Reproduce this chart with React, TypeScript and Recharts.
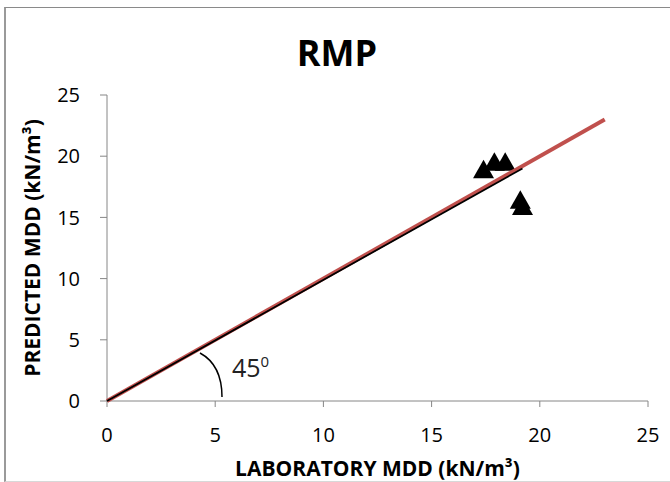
import React from "react";
import {
  ScatterChart,
  Scatter,
  XAxis,
  YAxis,
  ReferenceDot,
  Label,
} from "recharts";

// laboratory vs predicted maximum dry density, kN/m³
const labMdd = [17.4, 17.9, 18.4, 19.1, 19.2];
const predictedMdd = [18.9, 19.5, 19.5, 16.4, 15.9];

// 1:1 reference line
const equalityX = [0, 23];
const equalityY = [0, 23];

// fitted trend through the samples
const trendX = [0, 19.2];
const trendY = [0, 19.0];

const axisTicks = [0, 5, 10, 15, 20, 25];

const FONT = "'Open Sans', 'Liberation Sans', sans-serif";
const AXIS_GREY = "#868686";

const toPoints = (xs: number[], ys: number[]) =>
  xs.map((x, i) => ({ x, y: ys[i] }));

const points = toPoints(labMdd, predictedMdd);
const equality = toPoints(equalityX, equalityY);
const trend = toPoints(trendX, trendY);

const Triangle = (props: any) => {
  const { cx, cy } = props;
  if (cx == null || cy == null) return <g />;
  return (
    <polygon
      points={`${cx},${cy - 10} ${cx - 10.5},${cy + 8.5} ${cx + 10.5},${cy + 8.5}`}
      fill="#000"
    />
  );
};

const NoDot = () => <g />;

// angle marker drawn from the origin of the plot
const AngleMark = (props: any) => {
  const { cx, cy } = props;
  if (cx == null || cy == null) return <g />;
  return (
    <g>
      <path
        d={`M ${cx + 93} ${cy - 48} Q ${cx + 115} ${cy - 36} ${cx + 115} ${cy - 4}`}
        fill="none"
        stroke="#000"
        strokeWidth={1.5}
      />
      <text x={cx + 125} y={cy - 24} fontFamily={FONT} fontSize={25} fill="#222">
        45
        <tspan fontSize={15} dy={-10}>
          0
        </tspan>
      </text>
    </g>
  );
};

const YTitle = (props: any) => {
  const vb = props.viewBox || {};
  const x = 32;
  const y = (vb.y ?? 95) + (vb.height ?? 306) / 2;
  return (
    <text
      x={x}
      y={y}
      transform={`rotate(-90 ${x} ${y})`}
      textAnchor="middle"
      dominantBaseline="central"
      fontFamily={FONT}
      fontWeight={700}
      fontSize={21}
      fill="#000"
    >
      PREDICTED MDD (kN/m³)
    </text>
  );
};

export default function App() {
  return (
    <div
      style={{
        position: "fixed",
        left: 0,
        top: 0,
        width: 670,
        height: 482,
        background: "#fff",
        overflow: "hidden",
      }}
    >
      <div
        style={{
          position: "absolute",
          left: 4,
          top: 7,
          width: 700,
          height: 473,
          borderTop: "1px solid #8a8a8a",
          borderLeft: "2px solid #9a9a9a",
          borderBottom: "1px solid #d8d8d8",
        }}
      />
      <div
        style={{
          position: "absolute",
          left: 0,
          width: 674,
          top: 33,
          textAlign: "center",
          fontFamily: FONT,
          fontWeight: 700,
          fontSize: 36,
          lineHeight: "40px",
          color: "#000",
        }}
      >
        RMP
      </div>
      <div style={{ position: "absolute", left: 0, top: 0 }}>
        <ScatterChart
          width={670}
          height={482}
          margin={{ top: 95, right: 22, bottom: 0, left: 0 }}
        >
          <XAxis
            type="number"
            dataKey="x"
            domain={[0, 25]}
            ticks={axisTicks}
            height={81}
            stroke={AXIS_GREY}
            tickSize={6}
            tickMargin={21}
            tick={{ fill: "#000", fontFamily: FONT, fontSize: 20 }}
          >
            <Label
              value="LABORATORY MDD (kN/m³)"
              position="insideBottom"
              offset={6}
              style={{
                fontFamily: FONT,
                fontWeight: 700,
                fontSize: 21,
                fill: "#000",
              }}
            />
          </XAxis>
          <YAxis
            type="number"
            dataKey="y"
            domain={[0, 25]}
            ticks={axisTicks}
            width={107}
            stroke={AXIS_GREY}
            tickSize={7}
            tickMargin={20}
            tick={{ fill: "#000", fontFamily: FONT, fontSize: 20 }}
          >
            <Label content={<YTitle />} />
          </YAxis>
          <Scatter
            data={points}
            shape={<Triangle />}
            isAnimationActive={false}
          />
          <Scatter
            data={equality}
            line={{ stroke: "#C0504D", strokeWidth: 4 }}
            lineType="joint"
            shape={<NoDot />}
            isAnimationActive={false}
          />
          <Scatter
            data={trend}
            line={{ stroke: "#000", strokeWidth: 1.8 }}
            lineType="joint"
            shape={<NoDot />}
            isAnimationActive={false}
          />
          <ReferenceDot x={0} y={0} shape={<AngleMark />} />
        </ScatterChart>
      </div>
    </div>
  );
}
